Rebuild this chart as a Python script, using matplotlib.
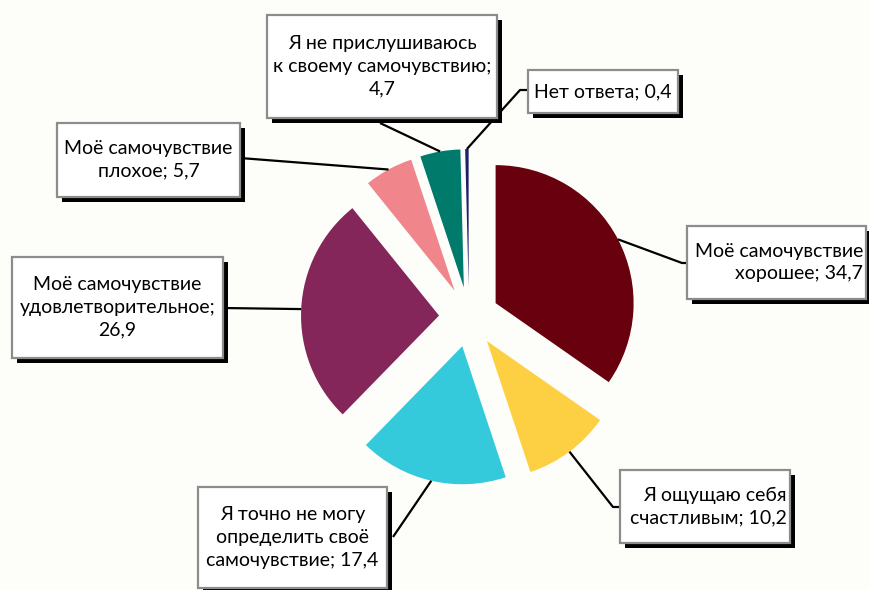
import numpy as np
import matplotlib.pyplot as plt
from matplotlib.patches import Rectangle

# survey answers, clockwise from 12 o'clock
names = [
    "Моё самочувствие\nхорошее",
    "Я ощущаю себя\nсчастливым",
    "Я точно не могу\nопределить своё\nсамочувствие",
    "Моё самочувствие\nудовлетворительное",
    "Моё самочувствие\nплохое",
    "Я не прислушиваюсь\nк своему самочувствию",
    "Нет ответа",
]
values = [34.7, 10.2, 17.4, 26.9, 5.7, 4.7, 0.4]
seps = ["; ", "; ", "; ", ";\n", "; ", ";\n", "; "]
colors = ["#68000E", "#FDD043", "#35C9DC", "#85265A", "#F0858C", "#007A6B", "#1C1F6A"]

# label boxes in pixel coords (left, top, right, bottom), leader elbows, text align
boxes = [
    (687, 226, 866, 299),
    (620, 470, 790, 543),
    (198, 487, 387, 588),
    (12, 257, 223, 358),
    (57, 123, 240, 197),
    (267, 15, 497, 118),
    (528, 70, 678, 113),
]
elbows = [
    [(682, 263), (687, 263)],
    [(613, 507), (620, 507)],
    [(393, 537)],
    [(223, 308)],
    [(240, 158)],
    [(380, 123)],
    [(520, 90), (528, 90)],
]
align = ["right", "right", "center", "center", "center", "center", "center"]

W, H = 869, 590
BG = "#FDFDFA"
plt.rcParams["font.family"] = ["Lato", "DejaVu Sans"]

fig = plt.figure(figsize=(W / 100, H / 100), dpi=100, facecolor=BG)
ax = fig.add_axes([0, 0, 1, 1])
ax.set_facecolor(BG)

# y axis is flipped (pixel coords), so counterclock in data = clockwise on screen
# explode is in data units here (not a fraction of the radius)
wedges, _ = ax.pie(values, colors=colors, explode=[30] * len(values),
                   startangle=-90, counterclock=True, radius=138,
                   center=(469, 317), wedgeprops={"linewidth": 0})
ax.set_xlim(0, W)
ax.set_ylim(H, 0)
ax.set_aspect("equal")
ax.axis("off")

for w, name, v, sep, box, elb, ha in zip(wedges, names, values, seps, boxes, elbows, align):
    mid = np.deg2rad((w.theta1 + w.theta2) / 2)
    cx, cy = w.center
    anchor = (cx + w.r * np.cos(mid), cy + w.r * np.sin(mid))
    pts = [anchor] + elb
    ax.plot([p[0] for p in pts], [p[1] for p in pts], color="black", lw=1.6,
            zorder=3, solid_capstyle="butt")

    l, t, r, b = box
    ax.add_patch(Rectangle((l + 5, t + 5), r - l, b - t, facecolor="black",
                           edgecolor="none", zorder=4))
    ax.add_patch(Rectangle((l, t), r - l, b - t, facecolor="white",
                           edgecolor="#8C8C8C", lw=1.6, zorder=5))
    txt = f"{name}{sep}{v:.1f}".replace(".", ",")
    tx = (l + r) / 2 if ha == "center" else r - 3
    ax.text(tx, (t + b) / 2, txt, ha=ha, va="center", multialignment=ha,
            fontsize=14, linespacing=1.4, color="black", zorder=6)

fig.savefig("out.png", dpi=100, facecolor=BG)
